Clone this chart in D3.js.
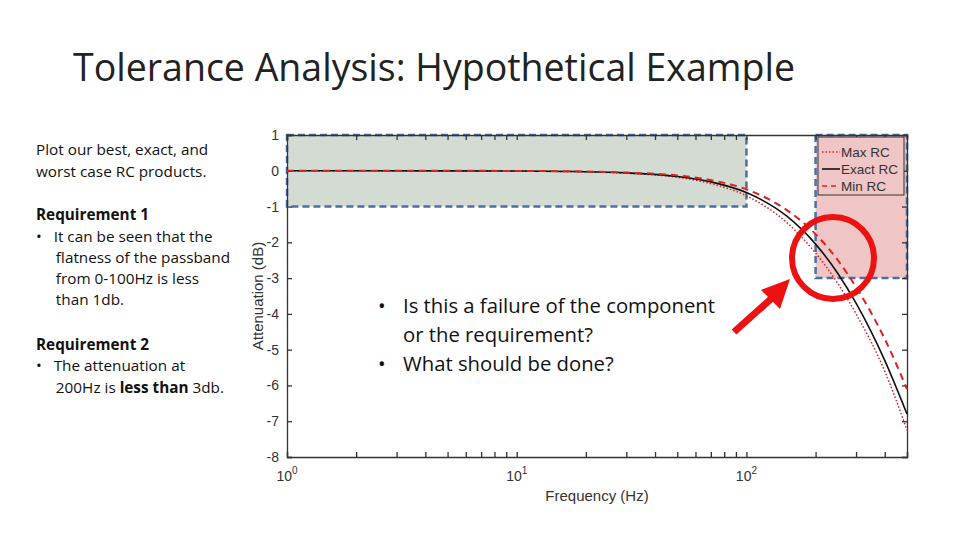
<!DOCTYPE html><html><head><meta charset="utf-8"><script src="https://cdn.jsdelivr.net/npm/d3@7"></script>
<style>body{margin:0;background:#fff}</style></head><body><svg id="c" width="960" height="540"></svg><script>
const freqs=[1,2,5,10,20,30,50,70,100,150,200,250,300,400,500];
const exactRC=[0,0,-0.002,-0.007,-0.026,-0.06,-0.16,-0.31,-0.61,-1.27,-2.05,-2.87,-3.7,-5.3,-6.8];
const maxRC=[0,0,-0.002,-0.008,-0.03,-0.07,-0.18,-0.36,-0.7,-1.45,-2.3,-3.15,-4.0,-5.6,-7.25];
const minRC=[0,0,-0.001,-0.005,-0.02,-0.05,-0.13,-0.26,-0.52,-1.1,-1.77,-2.5,-3.25,-4.7,-6.1];
const yTicks=[1,0,-1,-2,-3,-4,-5,-6,-7,-8];
const xTicks=[1,10,100];
const svg=d3.select("#c");
const x=d3.scaleLog().domain([1,500]).range([287,907]);
const y=d3.scaleLinear().domain([-8,1]).range([457,135]);
const F="Liberation Sans, Arial, sans-serif", C="Open Sans, Lato, sans-serif";
svg.append("text").attr("x",73).attr("y",81).attr("font-family",C).attr("font-size",37.5).attr("fill","#222").text("Tolerance Analysis: Hypothetical Example");
const lt=[[155,"Plot our best, exact, and",0],[177,"worst case RC products.",0],[220,"Requirement 1",1],[242,"•   It can be seen that the",0],[263,"     flatness of the passband",0],[284,"     from 0-100Hz is less",0],[305,"     than 1db.",0],[350,"Requirement 2",1],[371,"•   The attenuation at",0]];
lt.forEach(d=>svg.append("text").attr("x",36).attr("y",d[0]).attr("font-family",C).attr("font-size",15.3).attr("font-weight",d[2]?"bold":"normal").attr("xml:space","preserve").attr("fill","#111").text(d[1]));
const t2=svg.append("text").attr("x",36).attr("y",393).attr("font-family",C).attr("font-size",15.3).attr("xml:space","preserve").attr("fill","#111");
t2.append("tspan").text("     200Hz is ");t2.append("tspan").attr("font-weight","bold").text("less than");t2.append("tspan").text(" 3db.");
const blue="#4a6fa5";
svg.append("rect").attr("x",x(1)).attr("y",y(1)).attr("width",x(100)-x(1)).attr("height",y(-1)-y(1)).attr("fill","#d4dbd2").attr("stroke",blue).attr("stroke-width",2.5).attr("stroke-dasharray","7,4");
svg.append("rect").attr("x",x(200)).attr("y",y(1)).attr("width",x(500)-x(200)).attr("height",y(-3)-y(1)).attr("fill","#efc5c5").attr("stroke",blue).attr("stroke-width",2.5).attr("stroke-dasharray","7,4");
const mt=d3.range(1,10).concat(d3.range(10,100,10),d3.range(100,501,100));
const ax=svg.append("g").attr("transform","translate(0,457)").call(d3.axisBottom(x).tickValues(mt).tickSize(-5).tickFormat(""));
const ayL=svg.append("g").attr("transform","translate(287,0)").call(d3.axisLeft(y).tickValues(yTicks).tickSize(-5).tickFormat(d=>String(d)));
const ayR=svg.append("g").attr("transform","translate(907,0)").call(d3.axisRight(y).tickValues(yTicks).tickSize(-5).tickFormat(""));
const axT=svg.append("g").attr("transform","translate(0,135)").call(d3.axisTop(x).tickValues(mt).tickSize(-5).tickFormat(""));
[ax,ayL,ayR,axT].forEach(g=>{g.selectAll("path,line").attr("stroke","#333").attr("stroke-width",1.3);g.selectAll("text").attr("font-family",F).attr("font-size",14).attr("fill","#333");});
ayL.selectAll("text").attr("x",-8);
xTicks.forEach((v,i)=>{const t=svg.append("text").attr("x",x(v)).attr("y",481).attr("text-anchor","middle").attr("font-family",F).attr("font-size",14).attr("fill","#333");t.append("tspan").text("10");t.append("tspan").attr("dy",-7).attr("font-size",10).text(i);});
svg.append("text").attr("x",597).attr("y",501).attr("text-anchor","middle").attr("font-family",F).attr("font-size",15).attr("fill","#333").text("Frequency (Hz)");
svg.append("text").attr("transform","translate(263,296) rotate(-90)").attr("text-anchor","middle").attr("font-family",F).attr("font-size",15).attr("fill","#333").text("Attenuation (dB)");
const line=vals=>d3.line().x((d,i)=>x(freqs[i])).y(d=>y(d)).curve(d3.curveMonotoneX)(vals);
svg.append("path").attr("d",line(maxRC)).attr("fill","none").attr("stroke","#e02020").attr("stroke-width",1.5).attr("stroke-dasharray","1.5,2");
svg.append("path").attr("d",line(exactRC)).attr("fill","none").attr("stroke","#111").attr("stroke-width",1.6);
svg.append("path").attr("d",line(minRC)).attr("fill","none").attr("stroke","#e02020").attr("stroke-width",2).attr("stroke-dasharray","7,5");
svg.append("rect").attr("x",818).attr("y",137).attr("width",86).attr("height",58).attr("fill","#efc5c5").attr("stroke","#333").attr("stroke-width",1);
[["Max RC","1.5,2","#e02020"],["Exact RC",null,"#111"],["Min RC","5,4","#e02020"]].forEach((d,i)=>{const yy=152+i*17;
svg.append("line").attr("x1",822).attr("x2",840).attr("y1",yy).attr("y2",yy).attr("stroke",d[2]).attr("stroke-width",1.6).attr("stroke-dasharray",d[1]);
svg.append("text").attr("x",841).attr("y",yy+5).attr("font-family",F).attr("font-size",13.5).attr("fill","#333").text(d[0]);});
svg.append("circle").attr("cx",833).attr("cy",258).attr("r",41).attr("fill","none").attr("stroke","#ee1111").attr("stroke-width",6);
svg.append("line").attr("x1",734).attr("y1",332).attr("x2",772).attr("y2",298).attr("stroke","#ee1111").attr("stroke-width",7);
svg.append("polygon").attr("points","790,279 761,290 780,309").attr("fill","#ee1111");
[[313,"•",1],[313,"Is this a failure of the component"],[342,"or the requirement?"],[371,"•",1],[371,"What should be done?"]].forEach(d=>svg.append("text").attr("x",d[2]?378:403).attr("y",d[0]).attr("font-family",C).attr("font-size",20.3).attr("fill","#111").text(d[1]));
</script></body></html>
